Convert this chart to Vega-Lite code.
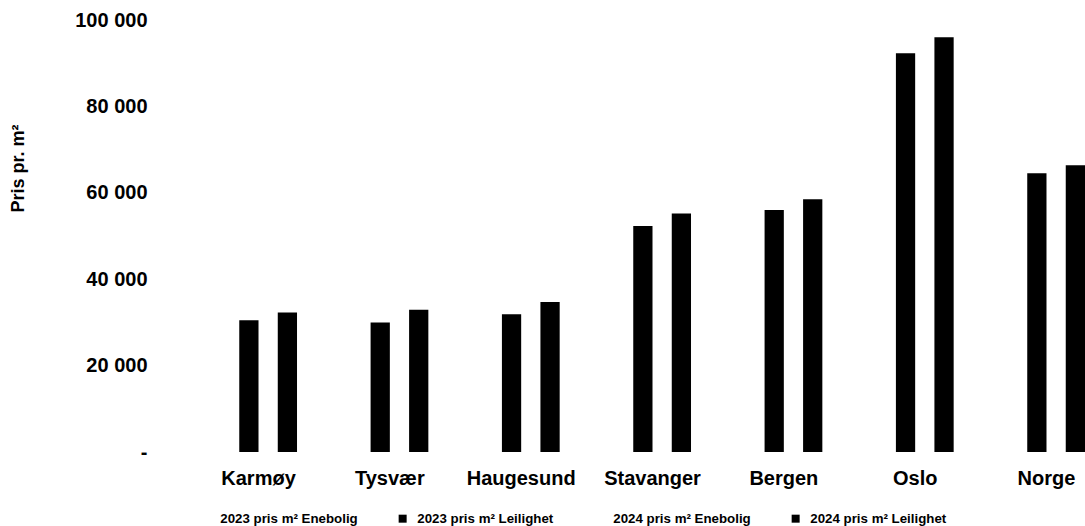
{
  "$schema": "https://vega.github.io/schema/vega-lite/v6.json",
  "autosize": "none",
  "width": 930,
  "height": 432,
  "padding": {"left": 155, "top": 20, "right": 0, "bottom": 74},
  "background": "white",
  "config": {
    "font": "Liberation Sans",
    "view": {"stroke": null}
  },
  "data": {
    "values": [
      {"sted": "Karmøy", "serie": "2023 pris m² Leilighet", "pris": 30500},
      {"sted": "Karmøy", "serie": "2024 pris m² Leilighet", "pris": 32300},
      {"sted": "Tysvær", "serie": "2023 pris m² Leilighet", "pris": 30000},
      {"sted": "Tysvær", "serie": "2024 pris m² Leilighet", "pris": 32900},
      {"sted": "Haugesund", "serie": "2023 pris m² Leilighet", "pris": 31900},
      {"sted": "Haugesund", "serie": "2024 pris m² Leilighet", "pris": 34700},
      {"sted": "Stavanger", "serie": "2023 pris m² Leilighet", "pris": 52300},
      {"sted": "Stavanger", "serie": "2024 pris m² Leilighet", "pris": 55200},
      {"sted": "Bergen", "serie": "2023 pris m² Leilighet", "pris": 56000},
      {"sted": "Bergen", "serie": "2024 pris m² Leilighet", "pris": 58500},
      {"sted": "Oslo", "serie": "2023 pris m² Leilighet", "pris": 92300},
      {"sted": "Oslo", "serie": "2024 pris m² Leilighet", "pris": 96000},
      {"sted": "Norge", "serie": "2023 pris m² Leilighet", "pris": 64500},
      {"sted": "Norge", "serie": "2024 pris m² Leilighet", "pris": 66400}
    ]
  },
  "mark": {"type": "bar", "strokeWidth": 0},
  "encoding": {
    "x": {
      "field": "sted",
      "type": "nominal",
      "sort": ["Karmøy", "Tysvær", "Haugesund", "Stavanger", "Bergen", "Oslo", "Norge"],
      "scale": {"paddingInner": 0.4136, "paddingOuter": 0.2475, "align": 1},
      "axis": {
        "title": null,
        "domain": false,
        "ticks": false,
        "labelAngle": 0,
        "labelFontSize": 20,
        "labelFontWeight": "bold",
        "labelColor": "black",
        "labelPadding": 16
      }
    },
    "xOffset": {
      "field": "serie",
      "type": "nominal",
      "scale": {
        "domain": ["2023 pris m² Enebolig", "2023 pris m² Leilighet", "2024 pris m² Enebolig", "2024 pris m² Leilighet"],
        "paddingInner": 0,
        "paddingOuter": 0
      }
    },
    "y": {
      "field": "pris",
      "type": "quantitative",
      "scale": {"domain": [0, 100000], "nice": false},
      "axis": {
        "title": "Pris pr. m²",
        "titleFontSize": 18,
        "titleFontWeight": "bold",
        "titleColor": "black",
        "titleX": -137,
        "titleY": 148,
        "titleAngle": -90,
        "titleBaseline": "middle",
        "titleAlign": "center",
        "values": [0, 20000, 40000, 60000, 80000, 100000],
        "labelExpr": "datum.value == 0 ? '-' : replace(format(datum.value, ','), ',', ' ')",
        "domain": false,
        "ticks": false,
        "grid": false,
        "labelPadding": 8,
        "labelFontSize": 20,
        "labelFontWeight": "bold",
        "labelColor": "black"
      }
    },
    "color": {
      "field": "serie",
      "type": "nominal",
      "scale": {
        "domain": ["2023 pris m² Enebolig", "2023 pris m² Leilighet", "2024 pris m² Enebolig", "2024 pris m² Leilighet"],
        "range": ["white", "black", "white", "black"]
      },
      "legend": {
        "title": null,
        "orient": "none",
        "legendX": 44,
        "legendY": 492,
        "direction": "horizontal",
        "columns": 4,
        "columnPadding": 38,
        "symbolType": "square",
        "symbolSize": 64,
        "symbolStrokeWidth": 0,
        "labelOffset": 8,
        "labelFontSize": 13.3,
        "labelFontWeight": "bold",
        "labelColor": "black",
        "labelLimit": 300
      }
    }
  }
}
